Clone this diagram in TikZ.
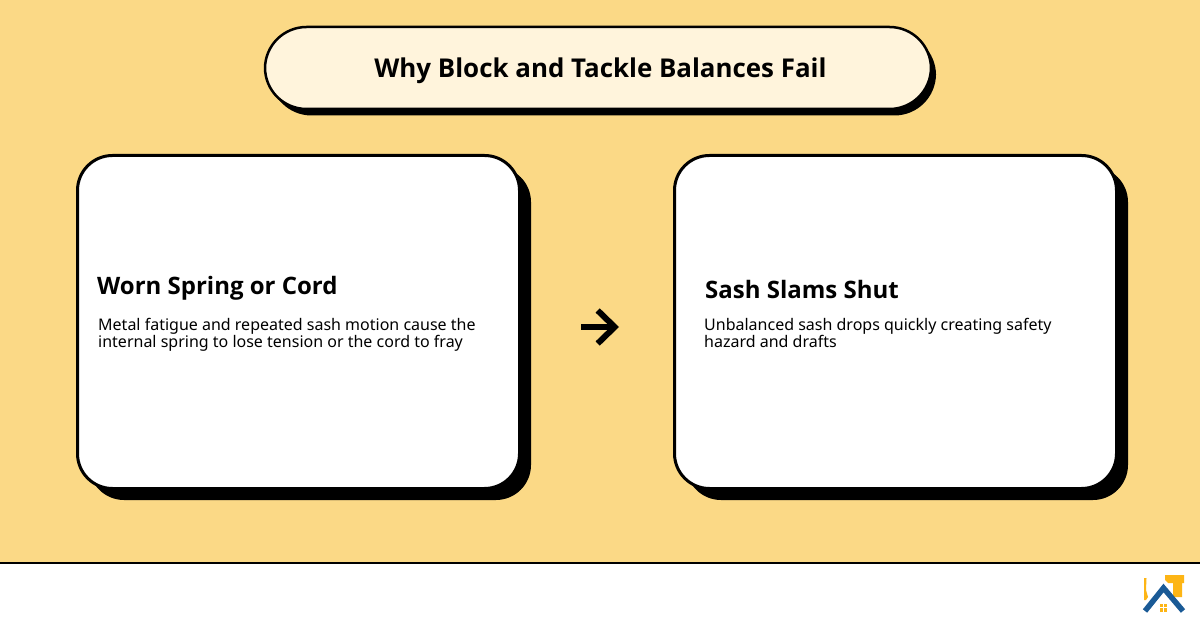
\documentclass[tikz,border=0pt]{standalone}
\usepackage{fontspec}
\setmainfont{Noto Sans}
\newfontfamily\headfont{Open Sans}
\usetikzlibrary{arrows.meta,positioning}
\definecolor{bgyellow}{HTML}{FBD986}
\definecolor{titlecream}{HTML}{FFF4DC}
\definecolor{roofblue}{HTML}{1A5A96}
\definecolor{hammeryellow}{HTML}{FDB515}
\tikzset{
  titlebox/.style={rectangle, rounded corners=41.5pt, draw=black, line width=2.5pt, fill=titlecream,
    minimum width=666pt, minimum height=82pt, inner sep=0pt},
  titleshadow/.style={rectangle, rounded corners=41.5pt, fill=black,
    minimum width=666pt, minimum height=82pt, inner sep=0pt},
  cardbox/.style={rectangle, rounded corners=35pt, draw=black, line width=3pt, fill=white,
    minimum width=442pt, minimum height=333pt, inner sep=0pt},
  cardshadow/.style={rectangle, rounded corners=35pt, fill=black,
    minimum width=442pt, minimum height=333pt, inner sep=0pt},
  headtext/.style={anchor=west, inner sep=0pt, font=\headfont\bfseries\fontsize{24}{28}\selectfont},
  bodytext/.style={anchor=north west, inner sep=0pt, align=left, font=\fontsize{16}{16}\selectfont},
  flowarrow/.style={line width=6pt, -{Straight Barb[length=17pt,width=33pt,line width=6pt]}},
}
\begin{document}
\begin{tikzpicture}[x=1pt,y=1pt]
      \useasboundingbox (0,0) rectangle (1200,630);
      \fill[bgyellow] (0,0) rectangle (1200,630);
      \fill[white] (0,0) rectangle (1200,67);
      \node[rectangle, fill=black, minimum width=1200pt, minimum height=2pt, inner sep=0pt] (footerline) at (600,67) {};

      % title
      \node[titleshadow] (titleback) at (603,555.5) {};
      \node[titlebox] (title) at (598,562) {};
      \node[inner sep=0pt, font=\headfont\bfseries\fontsize{25.9}{32}\selectfont] (titletext) at (600.5,559) {Why Block and Tackle Balances Fail};

      % cards
      \node[cardshadow] (leftback) at (310,296.5) {};
      \node[cardbox] (left) at (298.5,308) {};
      \node[cardshadow] (rightback) at (907,296.5) {};
      \node[cardbox] (right) at (895.5,308) {};

      \node[headtext] (lefthead) at (97,341.5) {Worn Spring or Cord};
      \node[bodytext] (leftbody) at (98,312) {Metal fatigue and repeated sash motion cause the\\internal spring to lose tension or the cord to fray};
      \node[headtext] (righthead) at (705,340.5) {Sash Slams Shut};
      \node[bodytext] (rightbody) at (704,312) {Unbalanced sash drops quickly creating safety\\hazard and drafts};

      % arrow
      \coordinate (arrowstart) at (581,303);
      \coordinate (arrowend) at (619,303);
      \draw[flowarrow] (arrowstart) -- (arrowend);

      % logo
      \fill[hammeryellow] (1144,52) -- (1146.5,52) -- (1146,40) -- (1148,33) -- (1146,30) -- (1144,30) -- cycle;
      \fill[hammeryellow] (1165,55) -- (1184,55) -- (1184,47) -- (1182,47) -- (1182,33) -- (1173,33) -- (1173,47) -- (1168,47) -- (1165,50) -- cycle;
      \draw[roofblue, line width=5.5pt] (1145,19) -- (1163.5,42) -- (1183,19);
      \fill[hammeryellow] (1159.5,23) rectangle (1162.7,26.2);
      \fill[hammeryellow] (1163.7,23) rectangle (1166.9,26.2);
      \fill[hammeryellow] (1159.5,18.5) rectangle (1162.7,21.7);
      \fill[hammeryellow] (1163.7,18.5) rectangle (1166.9,21.7);
\end{tikzpicture}
\end{document}
